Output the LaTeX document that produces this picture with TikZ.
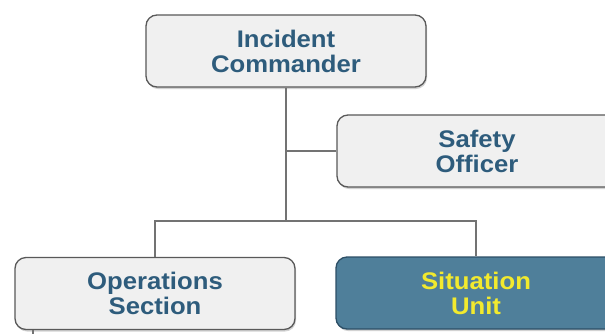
\documentclass[tikz,border=0pt]{standalone}
\usepackage{fontspec}
\setmainfont{Liberation Sans}[FakeStretch=1.07]
\usetikzlibrary{shadows}
\definecolor{textblue}{HTML}{2E5C7C}
\definecolor{boxgray}{HTML}{F0F0F0}
\definecolor{unitblue}{HTML}{4F7F9A}
\definecolor{unitedge}{HTML}{2D4F66}
\definecolor{unityellow}{HTML}{F2EA2E}
\begin{document}
\begin{tikzpicture}[x=1pt,y=-1pt,
        box/.style={draw=black!65,line width=1.3pt,fill=boxgray,rounded corners=11pt,
            minimum width=280pt,minimum height=72pt,align=center,
            font=\bfseries\fontsize{24}{25}\selectfont,text=textblue,
            drop shadow={opacity=0.35,shadow xshift=1pt,shadow yshift=-2pt}},
        unitbox/.style={box,draw=unitedge,fill=unitblue,text=unityellow},
        link/.style={draw=black!55,line width=1.2pt}]
        \useasboundingbox (0,0) rectangle (605,333);
        \fill[white] (0,0) rectangle (605,333);

        \node[box] (ic) at (286,51) {Incident\\Commander};
        \node[box] (so) at (477,151) {Safety\\Officer};
        \node[box] (ops) at (155,293.5) {Operations\\Section};
        \node[unitbox] (sit) at (476,293) {Situation\\Unit};

        \coordinate (split) at (ic.south |- 0,221);
        \coordinate (opsdown) at (33,345);

        \draw[link] (ic.south) -- (split);
        \draw[link] (ic.south |- so.west) -- (so.west);
        \draw[link] (ops.north) |- (split) -| (sit.north);
        \draw[link] (ops.south -| opsdown) -- (opsdown);
    \end{tikzpicture}
\end{document}
